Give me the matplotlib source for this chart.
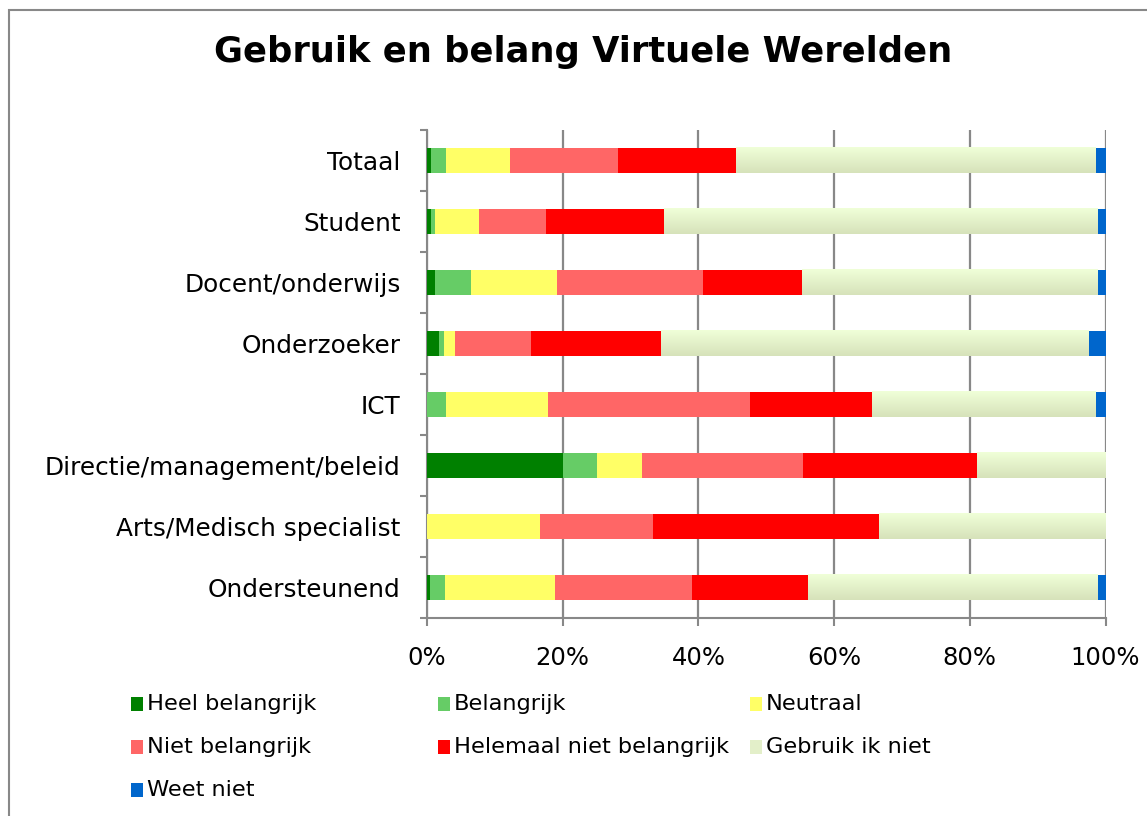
import matplotlib
matplotlib.use('Agg')
import matplotlib.pyplot as plt
import numpy as np
from matplotlib.colors import LinearSegmentedColormap
from matplotlib.patches import Rectangle

# data (percentages)
groepen = ['Totaal', 'Student', 'Docent/onderwijs', 'Onderzoeker', 'ICT',
           'Directie/management/beleid', 'Arts/Medisch specialist', 'Ondersteunend']
heel_belangrijk = [0.6, 0.6, 1.2, 1.8, 0.0, 20.0, 0.0, 0.4]
belangrijk = [2.2, 0.6, 5.3, 0.7, 2.8, 5.0, 0.0, 2.2]
neutraal = [9.4, 6.4, 12.7, 1.6, 15.0, 6.7, 16.7, 16.2]
niet_belangrijk = [15.9, 10.0, 21.5, 11.2, 29.8, 23.7, 16.6, 20.2]
helemaal_niet = [17.4, 17.3, 14.5, 19.2, 18.0, 25.6, 33.3, 17.2]
gebruik_niet = [53.0, 63.9, 43.6, 63.0, 32.9, 19.4, 33.4, 42.6]
weet_niet = [1.5, 1.2, 1.2, 2.5, 1.5, 0.0, 0.0, 1.2]

series = ['Heel belangrijk', 'Belangrijk', 'Neutraal', 'Niet belangrijk',
          'Helemaal niet belangrijk', 'Gebruik ik niet', 'Weet niet']
waarden = [heel_belangrijk, belangrijk, neutraal, niet_belangrijk,
           helemaal_niet, gebruik_niet, weet_niet]
kleuren = ['#008000', '#66CC66', '#FFFF66', '#FF6666', '#FF0000', '#E3EFC9', '#0066CC']

fig = plt.figure(figsize=(11.47, 8.16), dpi=100)
ax = fig.add_axes([427 / 1147, 1 - 618 / 816, 678.5 / 1147, 488 / 816])

y = np.arange(len(groepen))
links = np.zeros(len(groepen))
grad = LinearSegmentedColormap.from_list('grad', ['#F0FFD8', '#D6E2BA'])
for naam, w, k in zip(series, waarden, kleuren):
    bars = ax.barh(y, w, left=links, height=0.41, color=k, label=naam, zorder=3)
    if naam == 'Gebruik ik niet':
        # verloop zoals in Excel
        for b in bars:
            x0, y0 = b.get_x(), b.get_y()
            ax.imshow(np.linspace(0, 1, 50).reshape(-1, 1), cmap=grad, aspect='auto',
                      extent=[x0, x0 + b.get_width(), y0 + b.get_height(), y0],
                      zorder=3.5, interpolation='bilinear')
    links += np.array(w)

ax.set_xlim(0, 100)
ax.set_ylim(len(groepen) - 0.5, -0.5)

# assen
ax.set_xticks(np.arange(0, 101, 20))
ax.set_xticklabels([f'{v}%' for v in range(0, 101, 20)], fontsize=17.5)
ax.set_yticks(y)
ax.set_yticklabels(groepen, fontsize=17.8)
ax.set_yticks(np.arange(-0.5, len(groepen), 1), minor=True)
ax.tick_params(axis='y', which='major', length=0, pad=19)
ax.tick_params(axis='y', which='minor', length=5, width=1.5, color='#888888')
ax.tick_params(axis='x', length=6, width=1.5, color='#888888', pad=14)
ax.grid(axis='x', color='#888888', linewidth=1.6, zorder=1)
for s in ['top', 'right']:
    ax.spines[s].set_visible(False)
for s in ['left', 'bottom']:
    ax.spines[s].set_color('#888888')
    ax.spines[s].set_linewidth(1.5)

# titel
fig.text(583 / 1147, 1 - 52 / 816, 'Gebruik en belang Virtuele Werelden',
         fontsize=25.4, fontweight='bold', ha='center', va='center')

# legenda, rij voor rij zoals Excel
kol_x = [131, 438, 750]
rij_y = [704, 747, 790]
for i, (naam, k) in enumerate(zip(series, kleuren)):
    px = kol_x[i % 3]
    py = rij_y[i // 3]
    fig.patches.append(Rectangle((px / 1147, 1 - (py + 7) / 816), 12 / 1147, 14 / 816,
                                 transform=fig.transFigure, facecolor=k, edgecolor='none'))
    fig.text((px + 16) / 1147, 1 - py / 816, naam, fontsize=16.2, ha='left', va='center')

# rand van het grafiekgebied
fig.patches.append(Rectangle((9 / 1147, -0.05), 1.2, 1 - 10 / 816 + 0.05,
                             transform=fig.transFigure, facecolor='none',
                             edgecolor='#888888', linewidth=1.5))

plt.savefig('out.png', dpi=100)
